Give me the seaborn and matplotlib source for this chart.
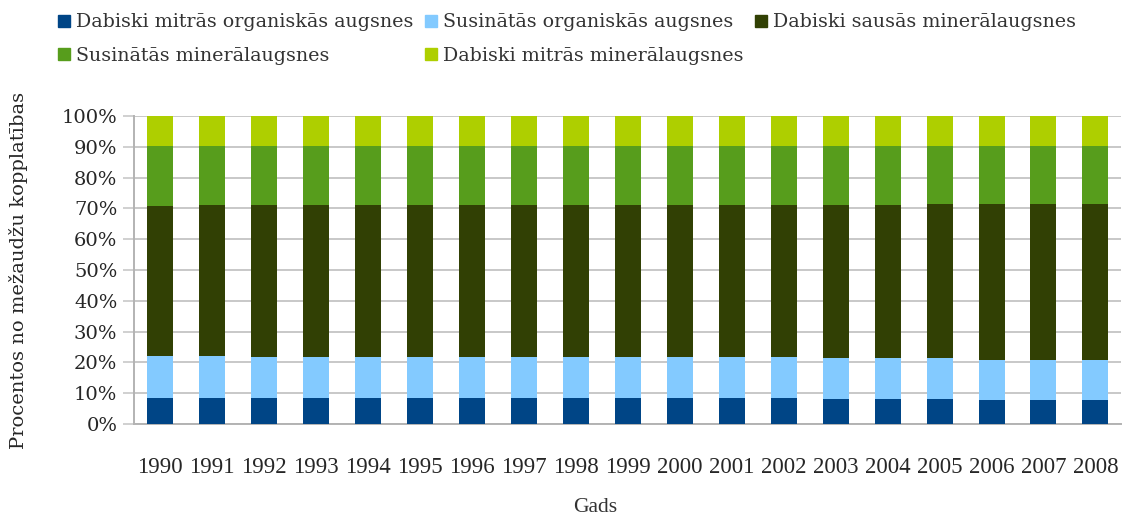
import numpy as np
import pandas as pd
import seaborn as sns
import matplotlib.pyplot as plt
from matplotlib.lines import Line2D
from matplotlib.ticker import FixedLocator, PercentFormatter

years = [str(y) for y in range(1990, 2009)]

# shares in percent of forest area
wet_organic = [8.6, 8.6, 8.6, 8.6, 8.6, 8.6, 8.3, 8.3, 8.3, 8.3,
               8.3, 8.3, 8.3, 8.2, 8.2, 8.2, 7.9, 7.9, 7.9]
drained_organic = [13.6, 13.6, 13.3, 13.3, 13.3, 13.3, 13.6, 13.3, 13.3, 13.3,
                   13.3, 13.3, 13.3, 13.1, 13.1, 13.1, 13.0, 13.0, 13.0]
dry_mineral = [48.5, 48.8, 49.1, 49.1, 49.1, 49.1, 49.1, 49.4, 49.4, 49.4,
               49.4, 49.4, 49.4, 49.7, 49.7, 50.0, 50.4, 50.4, 50.4]
drained_mineral = [19.5, 19.2, 19.2, 19.2, 19.2, 19.2, 19.2, 19.2, 19.2, 19.2,
                   19.2, 19.2, 19.2, 19.2, 19.2, 18.9, 18.9, 18.9, 18.9]
wet_mineral = [9.8, 9.8, 9.8, 9.8, 9.8, 9.8, 9.8, 9.8, 9.8, 9.8,
               9.8, 9.8, 9.8, 9.8, 9.8, 9.8, 9.8, 9.8, 9.8]

labels = ["Dabiski mitrās organiskās augsnes", "Susinātās organiskās augsnes",
          "Dabiski sausās minerālaugsnes", "Susinātās minerālaugsnes",
          "Dabiski mitrās minerālaugsnes"]
colors = ["#004586", "#83caff", "#314004", "#579d1c", "#aecf00"]

df = pd.DataFrame({"year": years})
series = [wet_organic, drained_organic, dry_mineral, drained_mineral, wet_mineral]
for name, vals in zip(labels, series):
    df[name] = vals
# normalise to 100 % and stack
totals = df[labels].sum(axis=1)
cum = df[labels].div(totals, axis=0).mul(100).cumsum(axis=1)

sns.set_style("white")
plt.rcParams["font.family"] = ["Liberation Serif", "DejaVu Serif"]
plt.rcParams["font.size"] = 15
plt.rcParams["text.color"] = "#333333"
wide = ["DejaVu Serif"]

fig = plt.figure(figsize=(11.22, 5.16), dpi=100)
ax = fig.add_axes([134 / 1122, 1 - 424 / 516, 1 - 134 / 1122 - 0.0005, 308 / 516])

# draw from the top of the stack down
for name, col in reversed(list(zip(labels, colors))):
    sns.barplot(x=df["year"], y=cum[name], color=col, width=0.5,
                saturation=1, linewidth=0, edgecolor="none", ax=ax, zorder=3)

ax.set_ylim(0, 100)
ax.set_xlim(-0.5, len(years) - 0.5)
ax.yaxis.set_major_locator(FixedLocator(np.arange(0, 101, 10)))
ax.yaxis.set_major_formatter(PercentFormatter(decimals=0))
ax.grid(axis="y", color="#c8c8c8", linewidth=1.4, zorder=0)
ax.set_axisbelow(True)

for s in ["top", "right"]:
    ax.spines[s].set_visible(False)
for s in ["left", "bottom"]:
    ax.spines[s].set_color("#b3b3b3")
    ax.spines[s].set_linewidth(1.4)

ax.xaxis.set_minor_locator(FixedLocator(np.arange(-0.5, len(years), 1)))
ax.tick_params(axis="x", which="major", length=0, pad=24, labelsize=16.5)
ax.tick_params(axis="x", which="minor", length=7, width=1.2, color="#b3b3b3",
               direction="out")
ax.tick_params(axis="y", length=8, width=1.2, color="#c8c8c8", pad=4,
               left=True)
for t in ax.get_yticklabels():
    t.set_family(wide)
    t.set_fontsize(14)
ax.set_xlabel("")
ax.set_ylabel("Procentos no mežaudžu kopplatības", family=wide,
              fontsize=14, labelpad=24)
fig.text(595 / 1122, 1 - 507 / 516, "Gads", ha="center", va="center",
         fontsize=15.5)

handles = [Line2D([], [], marker="s", linestyle="none", markersize=8.5,
                  markerfacecolor=c, markeredgecolor=c) for c in colors]
# matplotlib fills legend columns first; reorder so rows read left to right
order = [0, 3, 1, 4, 2]
fig.legend([handles[i] for i in order], [labels[i] for i in order],
           loc="upper left", bbox_to_anchor=(44 / 1122, 1.0),
           ncol=3, frameon=False, prop={"family": wide, "size": 13.7},
           handlelength=0.7, handletextpad=0.3, columnspacing=0.55,
           labelspacing=0.8, borderaxespad=0.3)

fig.savefig("out.png", dpi=100)
